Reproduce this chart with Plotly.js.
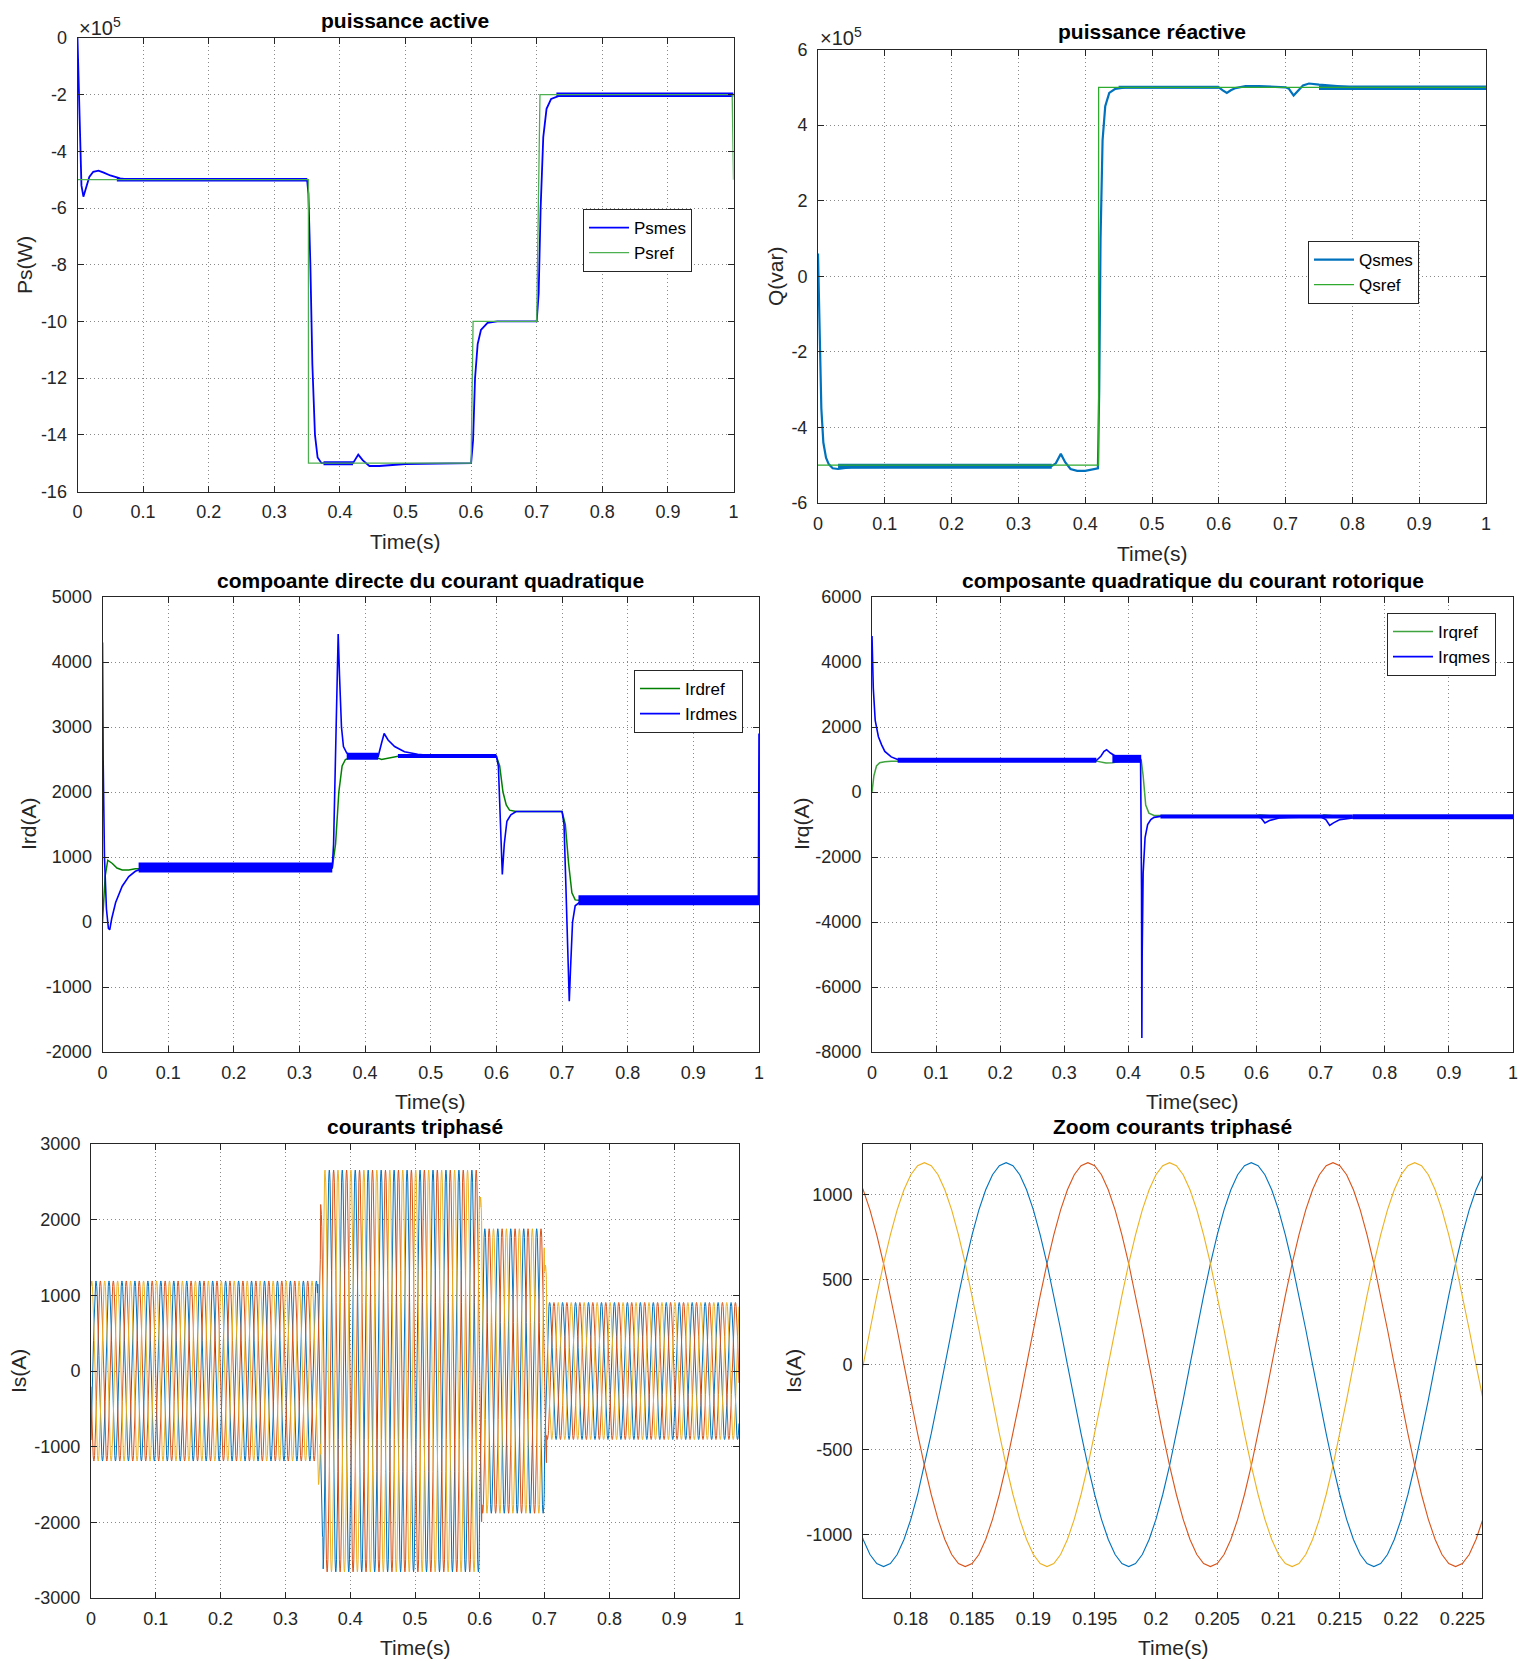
<!DOCTYPE html>
<html><head><meta charset="utf-8">
<script src="https://cdn.plot.ly/plotly-3.0.1.min.js"></script>
<style>html,body{margin:0;padding:0;background:#fff}</style>
</head><body><div id="chart" style="width:1531px;height:1661px"></div>
<script>
// ---------------- DATA ----------------
// Plot 1 : active power (x 1e5 W)
const psRefT = [0, 0.352, 0.3521, 0.6, 0.603, 0.7, 0.705, 0.998, 1];
const psRefV = [-5, -5, -15, -15, -10, -10, -2, -2, -5];
const psMesT = [0, 0.003, 0.006, 0.009, 0.013, 0.018, 0.024, 0.032, 0.04, 0.05, 0.065, 0.08, 0.1, 0.35,
  0.352, 0.355, 0.358, 0.362, 0.366, 0.372, 0.42, 0.428, 0.435, 0.445, 0.46, 0.5, 0.6,
  0.603, 0.606, 0.61, 0.615, 0.625, 0.64, 0.7, 0.703, 0.706, 0.71, 0.715, 0.722, 0.735, 1];
const psMesV = [0, -3.0, -5.2, -5.6, -5.3, -4.9, -4.72, -4.68, -4.75, -4.85, -4.95, -5.0, -5.0, -5.0,
  -5.5, -8, -11.5, -14.0, -14.8, -15.0, -15.0, -14.7, -14.9, -15.1, -15.1, -15.03, -15.0,
  -14.2, -12.0, -10.8, -10.3, -10.05, -10, -10, -9.0, -6.0, -3.5, -2.5, -2.15, -2.03, -2.0];
// ripple bands of the measured signal: start, end, level
const psBandT0 = [0.06, 0.375, 0.73];
const psBandT1 = [0.35, 0.42, 1.0];
const psBandV  = [-5.0, -15.0, -2.0];

// Plot 2 : reactive power (x 1e5 var)
const qsRefT = [0, 0.42, 0.4201, 1];
const qsRefV = [-5, -5, 5, 5];
const qsMesT = [0, 0.002, 0.005, 0.008, 0.012, 0.016, 0.022, 0.03, 0.05, 0.35, 0.356, 0.3635, 0.37, 0.378,
  0.388, 0.4, 0.41, 0.419, 0.421, 0.423, 0.426, 0.43, 0.436, 0.445, 0.46, 0.6, 0.606, 0.612, 0.618,
  0.625, 0.64, 0.66, 0.7, 0.705, 0.712, 0.718, 0.726, 0.735, 0.75, 0.8, 1];
const qsMesV = [0.6, -1.5, -3.5, -4.4, -4.8, -4.97, -5.08, -5.1, -5.05, -5.02, -4.95, -4.7, -4.92, -5.1,
  -5.15, -5.15, -5.12, -5.08, -3.0, 1.0, 3.6, 4.5, 4.85, 4.96, 5.0, 5.0, 4.92, 4.85, 4.92,
  4.98, 5.03, 5.03, 5.0, 4.96, 4.78, 4.9, 5.05, 5.1, 5.07, 5.0, 5.0];
const qsBandT0 = [0.03, 0.45, 0.75];
const qsBandT1 = [0.35, 0.6, 1.0];
const qsBandV  = [-5.03, 5.0, 4.99];

// Plot 3 : Ird (A)
const irdRefT = [0, 0.004, 0.008, 0.015, 0.022, 0.03, 0.04, 0.05, 0.35, 0.355, 0.36, 0.365, 0.37, 0.38,
  0.4, 0.415, 0.425, 0.44, 0.46, 0.48, 0.5, 0.6, 0.605, 0.61, 0.615, 0.62, 0.63, 0.7, 0.705, 0.71,
  0.715, 0.72, 0.73, 1];
const irdRefV = [0, 700, 950, 900, 830, 800, 800, 820, 830, 1200, 2000, 2400, 2500, 2540,
  2550, 2540, 2500, 2530, 2570, 2570, 2550, 2550, 2400, 2000, 1800, 1720, 1700, 1700, 1500, 900,
  450, 340, 330, 330];
const irdMesT = [0, 0.001, 0.003, 0.006, 0.009, 0.011, 0.014, 0.02, 0.03, 0.04, 0.05, 0.06, 0.08, 0.1,
  0.35, 0.352, 0.355, 0.357, 0.359, 0.361, 0.364, 0.367, 0.372, 0.38, 0.4, 0.42, 0.425, 0.429, 0.435,
  0.445, 0.46, 0.48, 0.5, 0.6, 0.603, 0.606, 0.609, 0.612, 0.616, 0.622, 0.63, 0.7, 0.703, 0.706,
  0.709, 0.711, 0.713, 0.716, 0.72, 0.73, 0.999, 1];
const irdMesV = [4300, 2500, 1000, 200, -100, -120, 50, 300, 550, 700, 780, 820, 840, 840,
  840, 1200, 2500, 3800, 4430, 3800, 3000, 2700, 2600, 2550, 2550, 2550, 2750, 2900, 2800,
  2700, 2620, 2580, 2560, 2550, 2400, 1600, 730, 1200, 1550, 1650, 1700, 1700, 1500, 500,
  -500, -1220, -700, 0, 250, 330, 330, 2900];
const irdBandT0 = [0.055, 0.372, 0.45, 0.725];
const irdBandT1 = [0.35, 0.42, 0.6, 1.0];
const irdBandV  = [840, 2550, 2555, 335];

// Plot 4 : Irq (A)
const irqRefT = [0, 0.003, 0.007, 0.012, 0.02, 0.03, 0.35, 0.36, 0.365, 0.375, 0.39, 0.41, 0.42, 0.423,
  0.427, 0.432, 0.44, 0.6, 0.605, 0.62, 0.65, 0.7, 0.705, 0.715, 0.73, 1];
const irqRefV = [0, 500, 800, 900, 930, 950, 950, 920, 890, 900, 950, 980, 980, 500,
  -400, -650, -720, -720, -700, -730, -760, -760, -700, -720, -760, -760];
const irqMesT = [0, 0.002, 0.005, 0.01, 0.015, 0.02, 0.03, 0.04, 0.05, 0.35, 0.357, 0.362, 0.366, 0.372,
  0.38, 0.39, 0.41, 0.419, 0.4205, 0.421, 0.4215, 0.423, 0.426, 0.43, 0.435, 0.44, 0.45, 0.6, 0.607,
  0.613, 0.62, 0.635, 0.65, 0.7, 0.708, 0.714, 0.72, 0.73, 0.75, 0.8, 1];
const irqMesV = [4800, 3200, 2200, 1700, 1450, 1250, 1080, 1000, 970, 970, 1100, 1250, 1300, 1200,
  1100, 1050, 1000, 1000, -3000, -7570, -5000, -2500, -1400, -1000, -850, -780, -750, -750, -800,
  -950, -880, -800, -780, -760, -850, -1030, -950, -850, -800, -760, -760];
const irqBandT0 = [0.04, 0.375, 0.45, 0.75];
const irqBandT1 = [0.35, 0.42, 0.75, 1.0];
const irqBandV  = [975, 1020, -755, -760];

// Plots 5 & 6 : three-phase stator currents (A)
// one period, normalised, 36 samples (10 deg steps)
const cycleShape = [0, 0.174, 0.342, 0.5, 0.643, 0.766, 0.866, 0.94, 0.985, 1, 0.985, 0.94, 0.866, 0.766,
  0.643, 0.5, 0.342, 0.174, 0, -0.174, -0.342, -0.5, -0.643, -0.766, -0.866, -0.94, -0.985, -1,
  -0.985, -0.94, -0.866, -0.766, -0.643, -0.5, -0.342, -0.174];
const samplesPerSecond = 1800;          // 36 samples per 20 ms period
const phaseNames = ['Isa', 'Isb', 'Isc'];
const phaseDelay = [41, 53, 29];        // samples: blue, red, yellow (read from zoom)
// envelope (peak current) read from the full view
const envT = [0, 0.35, 0.354, 0.358, 0.6, 0.603, 0.7, 0.703];
const envA = [1190, 1500, 2200, 2655, 2300, 1880, 1400, 905];

// Tick labels
const x01Vals = [0, 0.1, 0.2, 0.3, 0.4, 0.5, 0.6, 0.7, 0.8, 0.9, 1];
const x01Text = ['0', '0.1', '0.2', '0.3', '0.4', '0.5', '0.6', '0.7', '0.8', '0.9', '1'];
const y1Vals = [0, -2, -4, -6, -8, -10, -12, -14, -16];
const y1Text = ['0', '-2', '-4', '-6', '-8', '-10', '-12', '-14', '-16'];
const y2Vals = [6, 4, 2, 0, -2, -4, -6];
const y2Text = ['6', '4', '2', '0', '-2', '-4', '-6'];
const y3Vals = [5000, 4000, 3000, 2000, 1000, 0, -1000, -2000];
const y3Text = ['5000', '4000', '3000', '2000', '1000', '0', '-1000', '-2000'];
const y4Vals = [6000, 4000, 2000, 0, -2000, -4000, -6000, -8000];
const y4Text = ['6000', '4000', '2000', '0', '-2000', '-4000', '-6000', '-8000'];
const y5Vals = [3000, 2000, 1000, 0, -1000, -2000, -3000];
const y5Text = ['3000', '2000', '1000', '0', '-1000', '-2000', '-3000'];
const x6Vals = [0.18, 0.185, 0.19, 0.195, 0.2, 0.205, 0.21, 0.215, 0.22, 0.225];
const x6Text = ['0.18', '0.185', '0.19', '0.195', '0.2', '0.205', '0.21', '0.215', '0.22', '0.225'];
const y6Vals = [1000, 500, 0, -500, -1000];
const y6Text = ['1000', '500', '0', '-500', '-1000'];

// ---------------- BUILD ----------------
const W = 1531, H = 1661;
const FONT = 'Liberation Sans, Arial, Helvetica, sans-serif';
const BLUE = '#0000ff', MBLUE = '#0072BD', MRED = '#D95319', MYEL = '#EDB120';

// build three-phase series from the read cycle and envelope
const nS = samplesPerSecond;
const tS = [];
for (let n = 0; n <= nS; n++) tS.push(n / samplesPerSecond);
function envAt(t) { let a = envA[0]; for (let i = 0; i < envT.length; i++) if (t >= envT[i]) a = envA[i]; return a; }
const phases = phaseDelay.map(d => tS.map((t, n) => envAt(t) * cycleShape[(((n - d) % 36) + 36) % 36]));

const boxes = [
  [77.5, 733.5, 38, 491.5],
  [818, 1486, 49.5, 503],
  [102.5, 759, 597, 1052],
  [872, 1513, 597, 1052],
  [91, 739, 1144, 1598],
  [863, 1482, 1144, 1598]
];
const axCommon = {
  showline: true, linecolor: '#262626', linewidth: 1, mirror: 'ticks',
  ticks: 'inside', ticklen: 6, tickcolor: '#262626', tickwidth: 1,
  showgrid: true, gridcolor: 'rgba(40,40,40,0.55)', gridwidth: 1, griddash: '1px,3px',
  zeroline: false, fixedrange: true, tickmode: 'array',
  tickfont: {family: FONT, size: 18, color: '#262626'}
};
const xRanges = [[0, 1], [0, 1], [0, 1], [0, 1], [0, 1], [0.1761, 0.2266]];
const yRanges = [[-16, 0], [-6, 6], [-2000, 5000], [-8000, 6000], [-3000, 3000], [-1375, 1300]];
const xTV = [x01Vals, x01Vals, x01Vals, x01Vals, x01Vals, x6Vals];
const xTT = [x01Text, x01Text, x01Text, x01Text, x01Text, x6Text];
const yTV = [y1Vals, y2Vals, y3Vals, y4Vals, y5Vals, y6Vals];
const yTT = [y1Text, y2Text, y3Text, y4Text, y5Text, y6Text];

const layout = {
  width: W, height: H, margin: {l: 0, r: 0, t: 0, b: 0},
  paper_bgcolor: '#fff', plot_bgcolor: '#fff', showlegend: true,
  font: {family: FONT, color: '#262626'},
  annotations: []
};
boxes.forEach((b, i) => {
  const k = i === 0 ? '' : String(i + 1);
  layout['xaxis' + k] = Object.assign({}, axCommon, {
    domain: [b[0] / W, b[1] / W], range: xRanges[i], anchor: 'y' + k,
    tickvals: xTV[i], ticktext: xTT[i], ticklabelstandoff: 4
  });
  layout['yaxis' + k] = Object.assign({}, axCommon, {
    domain: [1 - b[3] / H, 1 - b[2] / H], range: yRanges[i], anchor: 'x' + k,
    tickvals: yTV[i], ticktext: yTT[i], ticklabelstandoff: 6
  });
});

function ann(text, px, py, opts) {
  layout.annotations.push(Object.assign({
    text: text, x: px / W, y: 1 - py / H, xref: 'paper', yref: 'paper',
    xanchor: 'center', yanchor: 'middle', showarrow: false,
    font: {family: FONT, size: 21, color: '#262626'}
  }, opts || {}));
}
const titleFont = {family: FONT, size: 21, color: '#000'};
ann('<b>puissance active</b>', 405.5, 20, {font: titleFont});
ann('<b>puissance réactive</b>', 1152, 31.5, {font: titleFont});
ann('<b>compoante directe du courant quadratique</b>', 430.5, 580, {font: titleFont});
ann('<b>composante quadratique du courant rotorique</b>', 1192.5, 580, {font: titleFont});
ann('<b>courants triphasé</b>', 415, 1126, {font: titleFont});
ann('<b>Zoom courants triphasé</b>', 1172.5, 1126, {font: titleFont});
ann('Time(s)', 405.5, 541);
ann('Time(s)', 1152, 553);
ann('Time(s)', 430.5, 1101);
ann('Time(sec)', 1192.5, 1101);
ann('Time(s)', 415, 1647);
ann('Time(s)', 1172.5, 1647);
ann('Ps(W)', 24, 265, {textangle: -90});
ann('Q(var)', 775, 276, {textangle: -90});
ann('Ird(A)', 28, 824, {textangle: -90});
ann('Irq(A)', 801, 824, {textangle: -90});
ann('Is(A)', 18, 1371, {textangle: -90});
ann('Is(A)', 793, 1371, {textangle: -90});
const expFont = {family: FONT, size: 20, color: '#262626'};
ann('×10<sup>5</sup>', 77, 26, {xanchor: 'left', font: expFont});
ann('×10<sup>5</sup>', 818, 37, {xanchor: 'left', font: expFont});

// legends
const legCommon = {
  bgcolor: '#fff', bordercolor: '#262626', borderwidth: 1,
  font: {family: FONT, size: 17, color: '#000'}, xanchor: 'left', yanchor: 'top',
  itemwidth: 40, tracegroupgap: 0
};
function legAt(px, py) { return Object.assign({}, legCommon, {x: px / W, y: 1 - py / H}); }
layout.legend = legAt(583, 209);
layout.legend2 = legAt(1308, 241);
layout.legend3 = legAt(634, 670);
layout.legend4 = legAt(1387, 613);

const traces = [];
function line(x, y, name, color, width, ax, leg, extra) {
  const k = ax === 1 ? '' : String(ax);
  traces.push(Object.assign({
    type: 'scatter', mode: 'lines', x: x, y: y, name: name || '',
    line: {color: color, width: width}, xaxis: 'x' + k, yaxis: 'y' + k,
    legend: leg, showlegend: !!name, hoverinfo: 'skip'
  }, extra || {}));
}
function bands(t0, t1, v, color, widths, ax) {
  for (let i = 0; i < v.length; i++) line([t0[i], t1[i]], [v[i], v[i]], null, color, widths[i], ax, 'legend');
}

// plot 1
line(psMesT, psMesV, 'Psmes', BLUE, 1.8, 1, 'legend');
bands(psBandT0, psBandT1, psBandV, BLUE, [3.5, 4, 4.5], 1);
line(psRefT, psRefV, 'Psref', '#4caf50', 1.3, 1, 'legend');
// plot 2
line(qsMesT, qsMesV, 'Qsmes', MBLUE, 2.2, 2, 'legend2');
bands(qsBandT0, qsBandT1, qsBandV, MBLUE, [5, 3, 4.5], 2);
line(qsRefT, qsRefV, 'Qsref', '#2eaa2e', 1.3, 2, 'legend2');
// plot 3
line(irdRefT, irdRefV, 'Irdref', '#008000', 1.5, 3, 'legend3');
line(irdMesT, irdMesV, 'Irdmes', BLUE, 1.6, 3, 'legend3');
bands(irdBandT0, irdBandT1, irdBandV, BLUE, [10, 7, 4, 10], 3);
// plot 4
line(irqRefT, irqRefV, 'Irqref', '#3fa33f', 1.5, 4, 'legend4');
line(irqMesT, irqMesV, 'Irqmes', BLUE, 1.6, 4, 'legend4');
bands(irqBandT0, irqBandT1, irqBandV, BLUE, [5, 8, 4, 5], 4);
// plots 5 and 6
const phaseColors = [MBLUE, MRED, MYEL];
phases.forEach((p, i) => line(tS, p, null, phaseColors[i], 1, 5, 'legend'));
phases.forEach((p, i) => line(tS, p, null, phaseColors[i], 1.1, 6, 'legend'));

Plotly.newPlot('chart', traces, layout, {staticPlot: true, displayModeBar: false});
</script></body></html>
